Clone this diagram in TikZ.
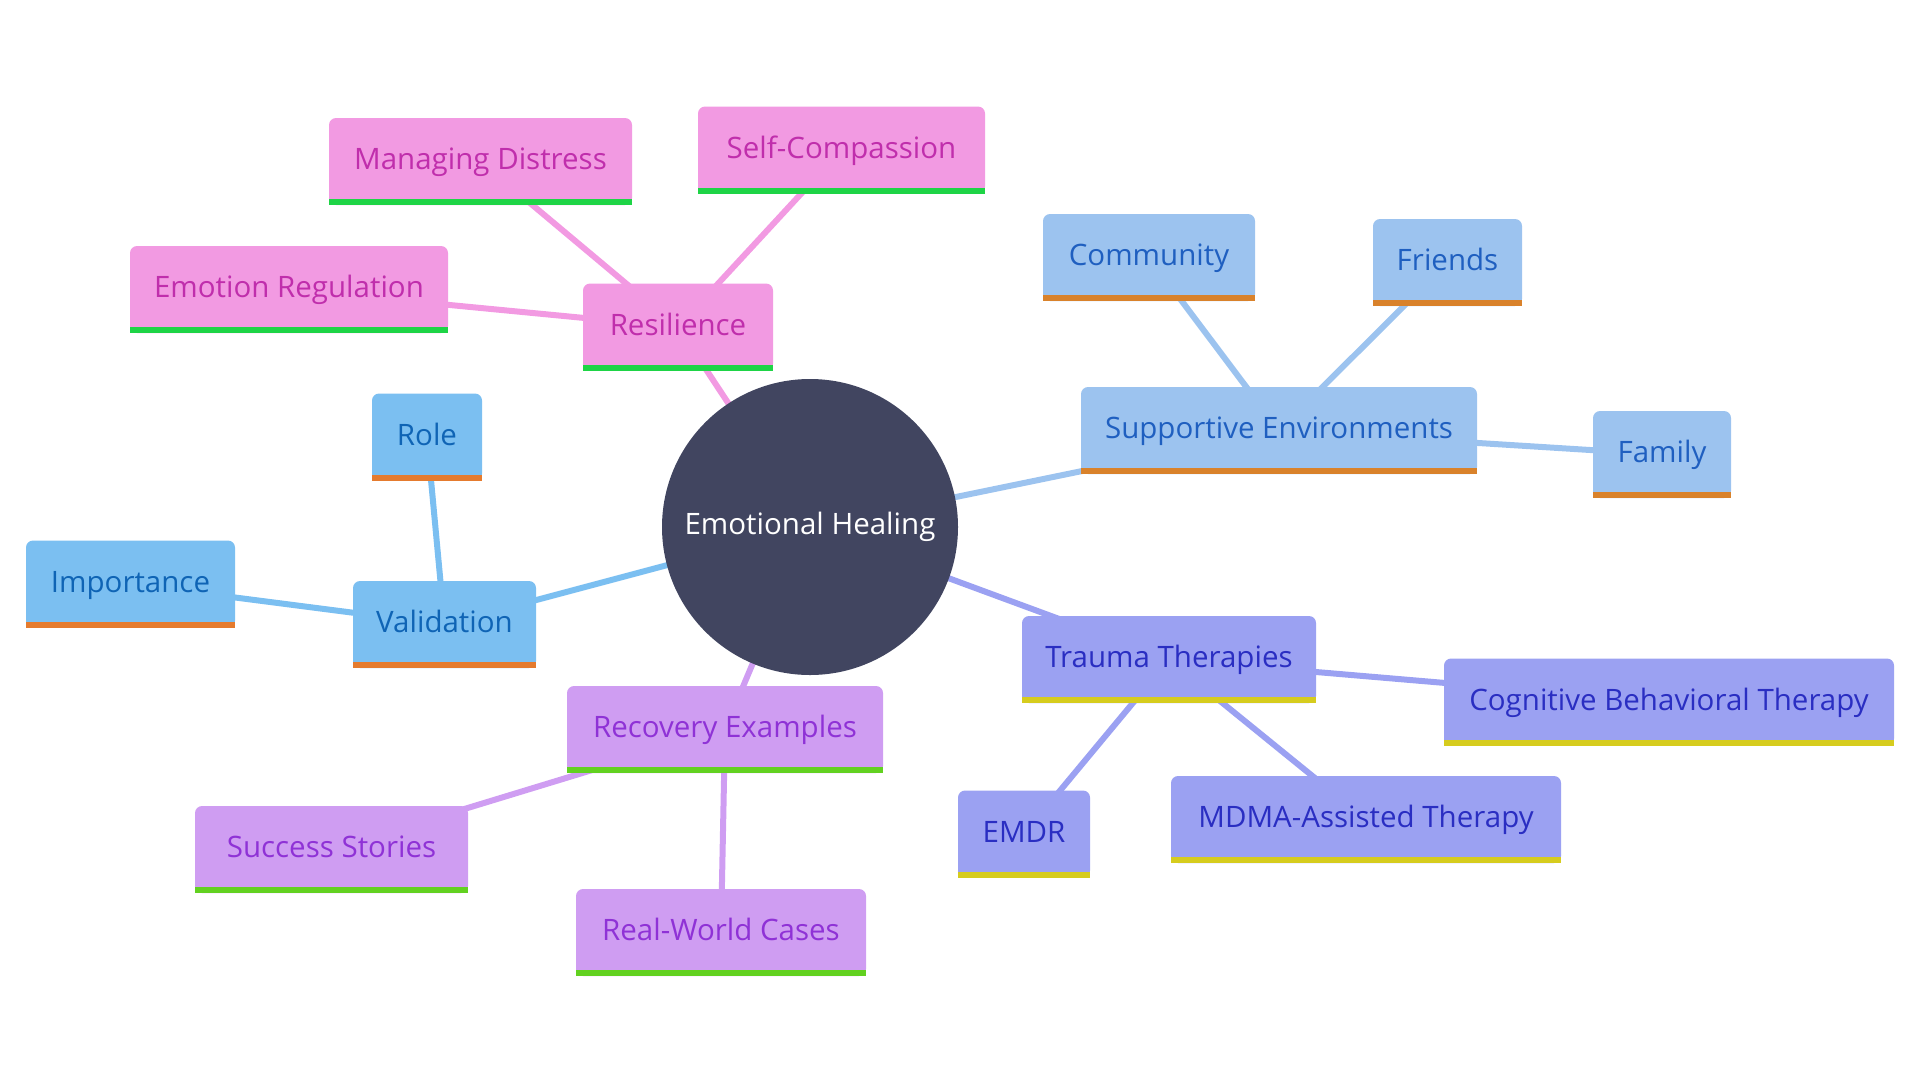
\documentclass[tikz,border=0pt]{standalone}
\usepackage{fontspec}
\setmainfont{Open Sans}
\usetikzlibrary{backgrounds}

\definecolor{hubfill}{HTML}{414560}
\definecolor{resfill}{HTML}{F29AE2}
\definecolor{restext}{HTML}{C02EAC}
\definecolor{resbar}{HTML}{1ED446}
\definecolor{supfill}{HTML}{9CC3EF}
\definecolor{suptext}{HTML}{1F5FC0}
\definecolor{supbar}{HTML}{D9822B}
\definecolor{valfill}{HTML}{7BBFF1}
\definecolor{valtext}{HTML}{0F64B5}
\definecolor{valbar}{HTML}{E57B2E}
\definecolor{recfill}{HTML}{CF9DF2}
\definecolor{rectext}{HTML}{8F32D6}
\definecolor{recbar}{HTML}{62D120}
\definecolor{trafill}{HTML}{9BA1F2}
\definecolor{tratext}{HTML}{2A2EC2}
\definecolor{trabar}{HTML}{D6CC1E}

\tikzset{
  leaf/.style={rectangle, rounded corners=7pt, fill=#1fill, text=#1text,
    minimum height=87pt, inner sep=0pt, text height=21pt, text depth=5pt,
    font=\fontsize{29.5}{35}\selectfont},
  link/.style={line width=6pt, draw=#1fill},
}

\begin{document}
\begin{tikzpicture}[x=1pt,y=-1pt]
\useasboundingbox (0,0) rectangle (1920,1080);
\node[circle, fill=hubfill, minimum size=296pt, inner sep=0pt, text=white,
  font=\fontsize{29.5}{35}\selectfont] (hub) at (810,527) {Emotional Healing};
% resilience
\node[leaf=res, minimum width=190pt] (res) at (678,327) {Resilience};
\node[leaf=res, minimum width=287pt] (selfc) at (841.5,150) {Self-Compassion};
\node[leaf=res, minimum width=303pt] (manage) at (480.5,161.5) {Managing Distress};
\node[leaf=res, minimum width=318pt] (emoreg) at (289,289.5) {Emotion Regulation};
% supportive environments
\node[leaf=sup, minimum width=396pt] (supp) at (1279,430.5) {Supportive Environments};
\node[leaf=sup, minimum width=212pt] (comm) at (1149,257.5) {Community};
\node[leaf=sup, minimum width=149pt] (friends) at (1447.5,262.5) {Friends};
\node[leaf=sup, minimum width=138pt] (family) at (1662,454.5) {Family};
% validation
\node[leaf=val, minimum width=183pt] (valid) at (444.5,624.5) {Validation};
\node[leaf=val, minimum width=110pt] (role) at (427,437) {Role};
\node[leaf=val, minimum width=209pt] (import) at (130.5,584) {Importance};
% recovery examples
\node[leaf=rec, minimum width=316pt] (recov) at (725,729.5) {Recovery Examples};
\node[leaf=rec, minimum width=273pt] (success) at (331.5,849.5) {Success Stories};
\node[leaf=rec, minimum width=290pt] (realw) at (721,932.5) {Real-World Cases};
% trauma therapies
\node[leaf=tra, minimum width=294pt] (trauma) at (1169,659.5) {Trauma Therapies};
\node[leaf=tra, minimum width=450pt] (cbt) at (1669,702) {Cognitive Behavioral Therapy};
\node[leaf=tra, minimum width=132pt] (emdr) at (1024,834) {EMDR};
\node[leaf=tra, minimum width=390pt] (mdma) at (1366,819.5) {MDMA-Assisted Therapy};

% square bottoms and coloured bars
\foreach \n/\k in {res/res, selfc/res, manage/res, emoreg/res,
    supp/sup, comm/sup, friends/sup, family/sup,
    valid/val, role/val, import/val,
    recov/rec, success/rec, realw/rec,
    trauma/tra, cbt/tra, emdr/tra, mdma/tra} {
  \fill[\k fill] ([yshift=12pt]\n.south west) rectangle (\n.south east);
  \fill[\k bar] ([yshift=6pt]\n.south west) rectangle (\n.south east);
}

\begin{scope}[on background layer]
\foreach \a/\b/\k in {hub/res/res, res/selfc/res, res/manage/res, res/emoreg/res,
    hub/supp/sup, supp/comm/sup, supp/friends/sup, supp/family/sup,
    hub/valid/val, valid/role/val, valid/import/val,
    hub/recov/rec, recov/success/rec, recov/realw/rec,
    hub/trauma/tra, trauma/cbt/tra, trauma/emdr/tra, trauma/mdma/tra}
  \draw[link=\k] (\a.center) -- (\b.center);
\end{scope}
\end{tikzpicture}
\end{document}
